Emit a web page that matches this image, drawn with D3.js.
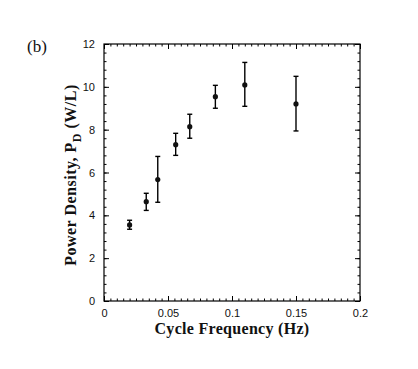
<!DOCTYPE html>
<html>
<head>
<meta charset="utf-8">
<script src="https://cdn.jsdelivr.net/npm/d3@7"></script>
<style>
  body { margin: 0; background: #fff; }
  svg { display: block; }
</style>
</head>
<body>
<div id="viz"></div>
<script>
// Cycle frequency (Hz) vs power density (W/L), with error bars
const freq = [0.02, 0.033, 0.042, 0.056, 0.067, 0.087, 0.11, 0.15];
const power = [3.55, 4.64, 5.67, 7.30, 8.14, 9.54, 10.09, 9.20];
const errLow = [3.35, 4.23, 4.61, 6.80, 7.60, 9.00, 9.09, 7.94];
const errHigh = [3.77, 5.03, 6.75, 7.83, 8.72, 10.07, 11.14, 10.49];

const xTicks = [0, 0.05, 0.1, 0.15, 0.2];
const yTicks = [0, 2, 4, 6, 8, 10, 12];

const width = 418, height = 369;
const margin = { left: 104, right: 58, top: 44, bottom: 68 };

const svg = d3.select("#viz").append("svg")
  .attr("width", width)
  .attr("height", height);

const x = d3.scaleLinear().domain([0, 0.2]).range([margin.left, width - margin.right]);
const y = d3.scaleLinear().domain([0, 12]).range([height - margin.bottom, margin.top]);

const tickFont = "'Liberation Sans', Arial, sans-serif";
const serif = "'Liberation Serif', 'Times New Roman', serif";

// minor ticks
const xMinor = d3.range(0, 0.2001, 0.005);
const yMinor = d3.range(0, 12.001, 0.4);

function styleAxis(g) {
  g.select(".domain").remove();
  g.selectAll("line").attr("stroke", "#000").attr("stroke-width", 1);
  g.selectAll("text").attr("font-family", tickFont).attr("font-size", 11).attr("fill", "#111");
}

// bottom
svg.append("g").attr("transform", `translate(0,${y(0)})`)
  .call(d3.axisBottom(x).tickValues(xMinor).tickSize(-2.5).tickFormat(""))
  .call(styleAxis);
svg.append("g").attr("transform", `translate(0,${y(0)})`)
  .call(d3.axisBottom(x).tickValues(xTicks).tickSize(-5).tickPadding(8).tickFormat(d3.format("~g")))
  .call(styleAxis);
// top
svg.append("g").attr("transform", `translate(0,${y(12)})`)
  .call(d3.axisTop(x).tickValues(xMinor).tickSize(-2.5).tickFormat(""))
  .call(styleAxis);
svg.append("g").attr("transform", `translate(0,${y(12)})`)
  .call(d3.axisTop(x).tickValues(xTicks).tickSize(-5).tickFormat(""))
  .call(styleAxis);
// left
svg.append("g").attr("transform", `translate(${x(0)},0)`)
  .call(d3.axisLeft(y).tickValues(yMinor).tickSize(-2.5).tickFormat(""))
  .call(styleAxis);
svg.append("g").attr("transform", `translate(${x(0)},0)`)
  .call(d3.axisLeft(y).tickValues(yTicks).tickSize(-5).tickPadding(9).tickFormat(d3.format("d")))
  .call(styleAxis);
// right
svg.append("g").attr("transform", `translate(${x(0.2)},0)`)
  .call(d3.axisRight(y).tickValues(yMinor).tickSize(-2.5).tickFormat(""))
  .call(styleAxis);
svg.append("g").attr("transform", `translate(${x(0.2)},0)`)
  .call(d3.axisRight(y).tickValues(yTicks).tickSize(-5).tickFormat(""))
  .call(styleAxis);

// frame
svg.append("rect")
  .attr("x", x(0)).attr("y", y(12))
  .attr("width", x(0.2) - x(0)).attr("height", y(0) - y(12))
  .attr("fill", "none").attr("stroke", "#000").attr("stroke-width", 1.2);

// error bars
const data = freq.map((f, i) => ({ f, p: power[i], lo: errLow[i], hi: errHigh[i] }));
const cap = 2.5;
const eb = svg.append("g").attr("stroke", "#000").attr("stroke-width", 1.4);
eb.selectAll("line.v").data(data).join("line").attr("class", "v")
  .attr("x1", d => x(d.f)).attr("x2", d => x(d.f))
  .attr("y1", d => y(d.lo)).attr("y2", d => y(d.hi));
eb.selectAll("line.t").data(data).join("line").attr("class", "t")
  .attr("x1", d => x(d.f) - cap).attr("x2", d => x(d.f) + cap)
  .attr("y1", d => y(d.hi)).attr("y2", d => y(d.hi));
eb.selectAll("line.b").data(data).join("line").attr("class", "b")
  .attr("x1", d => x(d.f) - cap).attr("x2", d => x(d.f) + cap)
  .attr("y1", d => y(d.lo)).attr("y2", d => y(d.lo));

// points
svg.append("g").selectAll("circle").data(data).join("circle")
  .attr("cx", d => x(d.f)).attr("cy", d => y(d.p)).attr("r", 2.6)
  .attr("fill", "#111");

// axis titles
svg.append("text")
  .attr("x", (x(0) + x(0.2)) / 2).attr("y", 334)
  .attr("text-anchor", "middle")
  .attr("font-family", serif).attr("font-weight", "bold").attr("font-size", 16)
  .attr("letter-spacing", 0.3)
  .attr("fill", "#111")
  .text("Cycle Frequency (Hz)");

const yt = svg.append("text")
  .attr("transform", `translate(76,175) rotate(-90)`)
  .attr("text-anchor", "middle")
  .attr("font-family", serif).attr("font-weight", "bold").attr("font-size", 16)
  .attr("letter-spacing", 0.5)
  .attr("fill", "#111");
yt.append("tspan").text("Power Density, P");
yt.append("tspan").attr("dy", 5).attr("font-size", 12).text("D");
yt.append("tspan").attr("dy", -5).text(" (W/L)");

// panel label
svg.append("text")
  .attr("x", 27).attr("y", 52)
  .attr("font-family", serif).attr("font-size", 17)
  .attr("fill", "#111")
  .text("(b)");
</script>
</body>
</html>
